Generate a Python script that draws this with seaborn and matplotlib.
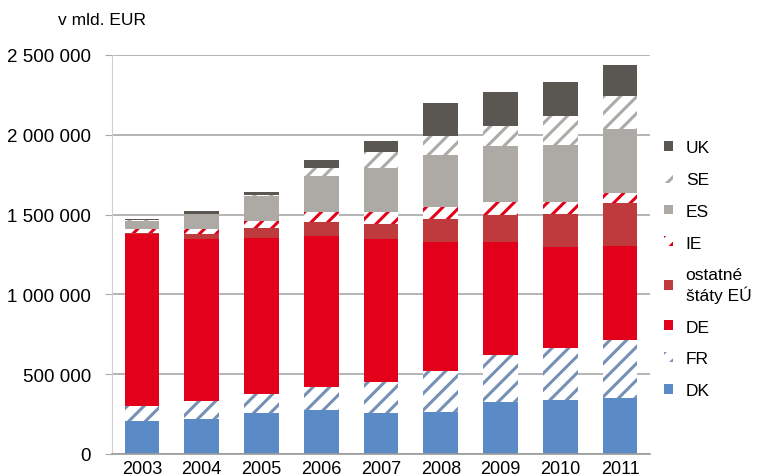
import matplotlib
matplotlib.use("Agg")
import matplotlib.pyplot as plt
import seaborn as sns
import pandas as pd
import numpy as np

# hodnoty odčítané z grafu (v mld. EUR)
roky = ["2003", "2004", "2005", "2006", "2007", "2008", "2009", "2010", "2011"]
dk = [209000, 219000, 255000, 276000, 255000, 265000, 328000, 338000, 349000]
fr = [90000, 115000, 121000, 146000, 198000, 257000, 294000, 324000, 365000]
de = [1080000, 1013000, 976000, 946000, 894000, 808000, 708000, 633000, 591000]
ostatne = [6000, 31000, 63000, 84000, 94000, 142000, 167000, 209000, 268000]
ie = [22000, 31000, 48000, 63000, 73000, 73000, 80000, 73000, 63000]
es = [56000, 94000, 152000, 226000, 276000, 330000, 351000, 359000, 401000]
se = [3000, 0, 5000, 52000, 100000, 115000, 129000, 180000, 205000]
uk = [9000, 17000, 21000, 46000, 73000, 207000, 209000, 213000, 196000]

vrstvy = ["DK", "FR", "DE", "ostatné\nštáty EÚ", "IE", "ES", "SE", "UK"]
hodnoty = [dk, fr, de, ostatne, ie, es, se, uk]
farby = ["#5b8bc6", "#7590b4", "#e2001a", "#bf3a3c", "#e2001a", "#adaaa6", "#aeaaa6", "#5a5753"]
srafy = [None, "//", None, None, "//", None, "//", None]

plt.rcParams["font.family"] = ["Liberation Sans", "DejaVu Sans"]
plt.rcParams["hatch.linewidth"] = 2.2

fig = plt.figure(figsize=(7.61, 4.77), dpi=100)
ax = fig.add_axes([112 / 761, 22 / 477, 538 / 761, 399 / 477])

# skladané stĺpce, vrstva po vrstve
spodok = np.zeros(len(roky))
for nazov, vals, farba, sraf in zip(vrstvy, hodnoty, farby, srafy):
    df = pd.DataFrame({"rok": roky, "hodnota": vals})
    if sraf:
        sns.barplot(data=df, x="rok", y="hodnota", ax=ax, bottom=spodok, width=0.58,
                    color="white", edgecolor=farba, hatch=sraf, linewidth=0,
                    saturation=1, label=nazov, errorbar=None)
    else:
        sns.barplot(data=df, x="rok", y="hodnota", ax=ax, bottom=spodok, width=0.58,
                    color=farba, linewidth=0, saturation=1, label=nazov, errorbar=None)
    spodok = spodok + np.array(vals)

ax.set_ylim(0, 2500000)
ax.set_xlim(-0.5, 8.5)
ax.set_yticks(np.arange(0, 2500001, 500000))
ax.set_yticklabels([f"{int(v):,}".replace(",", " ") for v in ax.get_yticks()])
ax.set_xlabel("")
ax.set_ylabel("")
ax.yaxis.grid(True, color="#a8a8a8", linewidth=1.2)
ax.set_axisbelow(True)
for s in ["top", "right"]:
    ax.spines[s].set_visible(False)
ax.spines["left"].set_color("#cfcfcf")
ax.spines["bottom"].set_color("#9a9a9a")
ax.spines["bottom"].set_linewidth(1.2)
ax.tick_params(axis="y", length=5, color="#a8a8a8", labelsize=13.5, pad=10)
ax.tick_params(axis="x", length=0, labelsize=13, pad=4)

# legenda vpravo, v opačnom poradí
h, l = ax.get_legend_handles_labels()
if ax.get_legend():
    ax.get_legend().remove()
fig.legend(h[::-1], l[::-1], loc="upper left", bbox_to_anchor=(664 / 761, 1 - 141 / 477),
           frameon=False, fontsize=12.5, handlelength=0.5, handleheight=0.5,
           handletextpad=0.75, labelspacing=0.97, borderpad=0, borderaxespad=0)

fig.text(58 / 761, 1 - 20.7 / 477, "v mld. EUR", fontsize=12.5, va="center", ha="left")

fig.savefig("out.png", dpi=100)
